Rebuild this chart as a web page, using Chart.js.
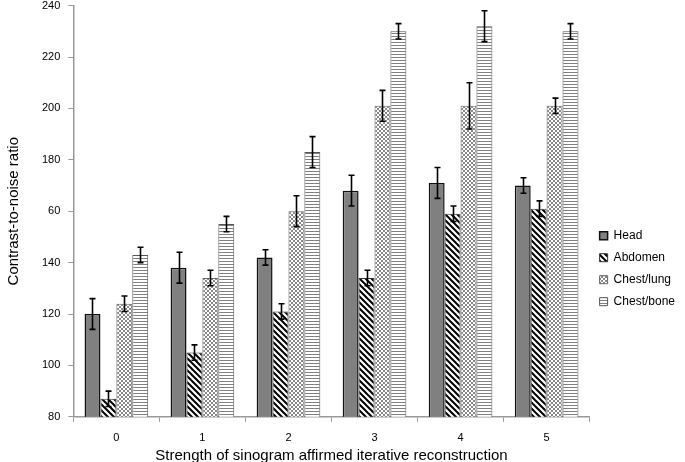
<!DOCTYPE html>
<html>
<head>
<meta charset="utf-8">
<script src="https://cdn.jsdelivr.net/npm/chart.js@4.4.1/dist/chart.umd.min.js"></script>
<style>
  html, body { margin: 0; padding: 0; background: #fff; }
  #wrap { width: 685px; height: 462px; position: relative; overflow: hidden; }
  #inner { position: absolute; left: 0; top: -9px; width: 685px; height: 471px; }
</style>
</head>
<body>
<div id="wrap"><div id="inner"><canvas id="c"></canvas></div></div>
<script>
// data
var categories = ["0", "1", "2", "3", "4", "5"];
var headVals = [120, 138, 142, 168, 171, 170];
var headErr = [6, 6, 3, 6, 6, 3];
var abdVals = [87, 105, 121, 134, 159, 161];
var abdErr = [3, 3, 3, 3, 3, 3];
var lungVals = [124, 134, 160, 201, 201, 201];
var lungErr = [3, 3, 6, 6, 9, 3];
var boneVals = [143, 155, 183, 230, 232, 230];
var boneErr = [3, 3, 6, 3, 6, 3];
// the original prints "60" where 160 should be
var yTickLabels = ["80", "100", "120", "140", "60", "180", "200", "220", "240"];

var FONT = "'Liberation Sans', Arial, sans-serif";

function makePattern(size, draw) {
  var cv = document.createElement("canvas");
  cv.width = size; cv.height = size;
  var g = cv.getContext("2d");
  draw(g, size);
  return g.createPattern(cv, "repeat");
}
var ctx0 = document.getElementById("c").getContext("2d");

var patHead = "#808080";
var patAbd = makePattern(6, function (g, s) {
  g.fillStyle = "#fff"; g.fillRect(0, 0, s, s);
  g.strokeStyle = "#000"; g.lineWidth = 2;
  g.beginPath();
  g.moveTo(-1, -1); g.lineTo(s + 1, s + 1);
  g.moveTo(-1, s - 1); g.lineTo(1, s + 1);
  g.moveTo(s - 1, -1); g.lineTo(s + 1, 1);
  g.stroke();
});
var patLung = makePattern(4, function (g, s) {
  g.fillStyle = "#fff"; g.fillRect(0, 0, s, s);
  g.strokeStyle = "#8a8a8a"; g.lineWidth = 1;
  g.beginPath();
  g.moveTo(0, 0); g.lineTo(s, s);
  g.moveTo(s, 0); g.lineTo(0, s);
  g.stroke();
});
var patBone = makePattern(3, function (g, s) {
  g.fillStyle = "#fff"; g.fillRect(0, 0, s, s);
  g.fillStyle = "#808080"; g.fillRect(0, 0, s, 1);
});

var errorBars = {
  id: "errorBars",
  afterDatasetsDraw: function (chart) {
    var ctx = chart.ctx, ys = chart.scales.y;
    ctx.save();
    ctx.strokeStyle = "#000"; ctx.lineWidth = 1.6;
    chart.data.datasets.forEach(function (ds, i) {
      var meta = chart.getDatasetMeta(i);
      if (meta.hidden) return;
      meta.data.forEach(function (bar, j) {
        var v = ds.data[j], e = ds.errs[j];
        var x = Math.round(bar.x) + 0.5;
        var yt = ys.getPixelForValue(v + e), yb = ys.getPixelForValue(v - e);
        ctx.beginPath();
        ctx.moveTo(x, yt); ctx.lineTo(x, yb);
        ctx.moveTo(x - 3, yt); ctx.lineTo(x + 3, yt);
        ctx.moveTo(x - 3, yb); ctx.lineTo(x + 3, yb);
        ctx.stroke();
      });
    });
    ctx.restore();
  }
};

function ds(label, data, errs, fill, border, bw) {
  return {
    label: label, data: data, errs: errs,
    backgroundColor: fill, borderColor: border, borderWidth: bw,
    borderSkipped: false, categoryPercentage: 0.74, barPercentage: 1.0
  };
}

new Chart(ctx0, {
  type: "bar",
  data: {
    labels: categories,
    datasets: [
      ds("Head", headVals, headErr, patHead, "#111", 1.5),
      ds("Abdomen", abdVals, abdErr, patAbd, "#333", 1),
      ds("Chest/lung", lungVals, lungErr, patLung, "#666", 1),
      ds("Chest/bone", boneVals, boneErr, patBone, "#555", 1)
    ]
  },
  plugins: [errorBars],
  options: {
    responsive: true, maintainAspectRatio: false, animation: false,
    layout: { padding: { top: 0, right: 0, bottom: 0, left: 5 } },
    plugins: {
      tooltip: { enabled: false },
      legend: {
        position: "right", align: "center",
        title: { display: true, text: " ", padding: { top: 70, bottom: 0 } },
        labels: { boxWidth: 8, boxHeight: 8, padding: 10, color: "#000",
          font: { family: FONT, size: 12 } }
      }
    },
    scales: {
      x: {
        grid: { display: true, offset: true, drawOnChartArea: false, drawTicks: true,
          tickLength: 5, color: "#999" },
        border: { color: "#999", width: 1.5 },
        ticks: { color: "#000", font: { family: FONT, size: 11 }, padding: 10 },
        title: { display: true, text: "Strength of sinogram affirmed iterative reconstruction",
          color: "#000", font: { family: FONT, size: 15 }, padding: { top: -8, bottom: -3 } }
      },
      y: {
        min: 80, max: 240,
        grid: { display: true, drawOnChartArea: false, drawTicks: true, tickLength: 5, color: "#999" },
        border: { color: "#999", width: 1.5 },
        ticks: { stepSize: 20, color: "#000", font: { family: FONT, size: 11 }, padding: 8,
          callback: function (v) { return yTickLabels[Math.round((v - 80) / 20)]; } },
        title: { display: true, text: "Contrast-to-noise ratio", color: "#000",
          font: { family: FONT, size: 15 }, padding: { top: 0, bottom: 11 } }
      }
    }
  }
});
</script>
</body>
</html>
